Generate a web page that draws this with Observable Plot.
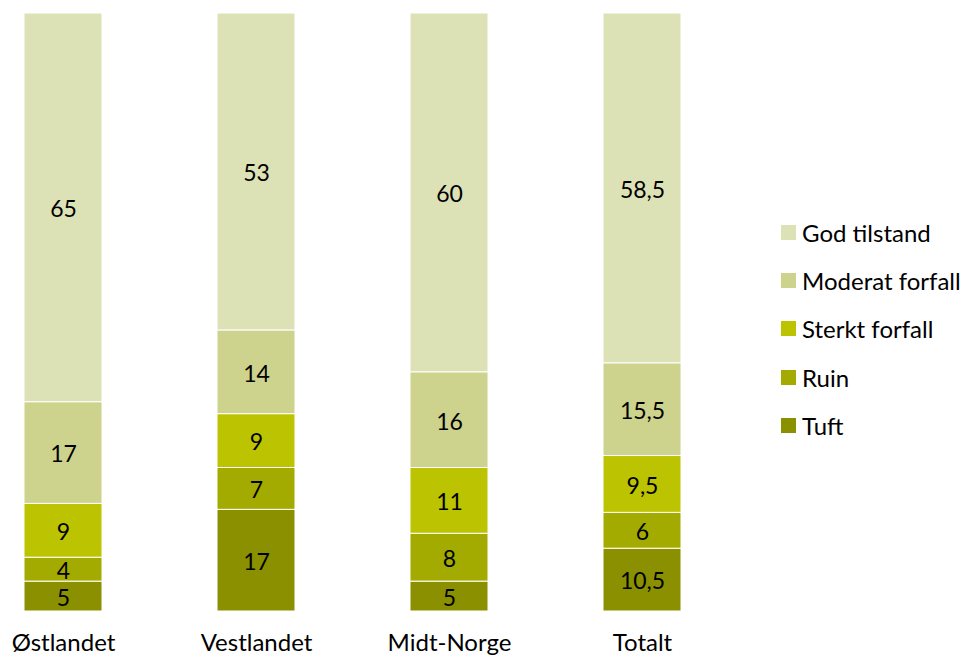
<!DOCTYPE html>
<html>
<head>
<meta charset="utf-8">
<script src="https://cdn.jsdelivr.net/npm/d3@7"></script>
<script src="https://cdn.jsdelivr.net/npm/@observablehq/plot@0.6"></script>
<style>
  html, body { margin: 0; padding: 0; background: #fff; }
  #wrap { position: relative; width: 969px; height: 659px; font-family: Lato, "Open Sans", sans-serif; }
  #legend { position: absolute; left: 781px; top: 208px; }
  .item { display: flex; align-items: center; height: 48.3px; font-size: 24px; color: #000; white-space: nowrap; }
  .sw { width: 15px; height: 15px; margin-right: 6px; flex: none; }
</style>
</head>
<body>
<div id="wrap">
  <div id="chart"></div>
  <div id="legend"></div>
</div>
<script>
const regions = ["Østlandet", "Vestlandet", "Midt-Norge", "Totalt"];
const categories = ["Tuft", "Ruin", "Sterkt forfall", "Moderat forfall", "God tilstand"];
const colors = ["#8a9000", "#a4ab00", "#bcc300", "#cdd28c", "#dce2b6"];
const tuft = [5, 17, 5, 10.5];
const ruin = [4, 7, 8, 6];
const sterkt = [9, 9, 11, 9.5];
const moderat = [17, 14, 16, 15.5];
const god = [65, 53, 60, 58.5];
const series = [tuft, ruin, sterkt, moderat, god];

const data = [];
categories.forEach((c, ci) => regions.forEach((r, ri) => data.push({region: r, category: c, value: series[ci][ri]})));

const fmt = v => String(v).replace(".", ",");

const chart = Plot.plot({
  width: 969,
  height: 659,
  marginTop: 13,
  marginBottom: 48,
  marginLeft: 0,
  marginRight: 0,
  style: {fontFamily: "Lato, 'Open Sans', sans-serif", background: "#fff"},
  x: {domain: regions, range: [23, 681], paddingInner: 0.596, paddingOuter: 0},
  y: {domain: [0, 100], axis: null},
  color: {domain: categories, range: colors},
  marks: [
    Plot.barY(data, Plot.stackY({x: "region", y: "value", z: "category", fill: "category", order: categories, stroke: "#fff", strokeWidth: 1})),
    Plot.text(data, Plot.stackY({x: "region", y: "value", z: "category", order: categories, text: d => fmt(d.value), fontSize: 23, fill: "#000", dy: 2})),
    Plot.axisX({tickSize: 0, tickPadding: 22, fontSize: 24, label: null, color: "#000"})
  ]
});
document.getElementById("chart").appendChild(chart);

const legend = document.getElementById("legend");
[...categories].reverse().forEach(c => {
  const i = categories.indexOf(c);
  const div = document.createElement("div");
  div.className = "item";
  div.innerHTML = `<span class="sw" style="background:${colors[i]}"></span><span>${c}</span>`;
  legend.appendChild(div);
});
</script>
</body>
</html>
